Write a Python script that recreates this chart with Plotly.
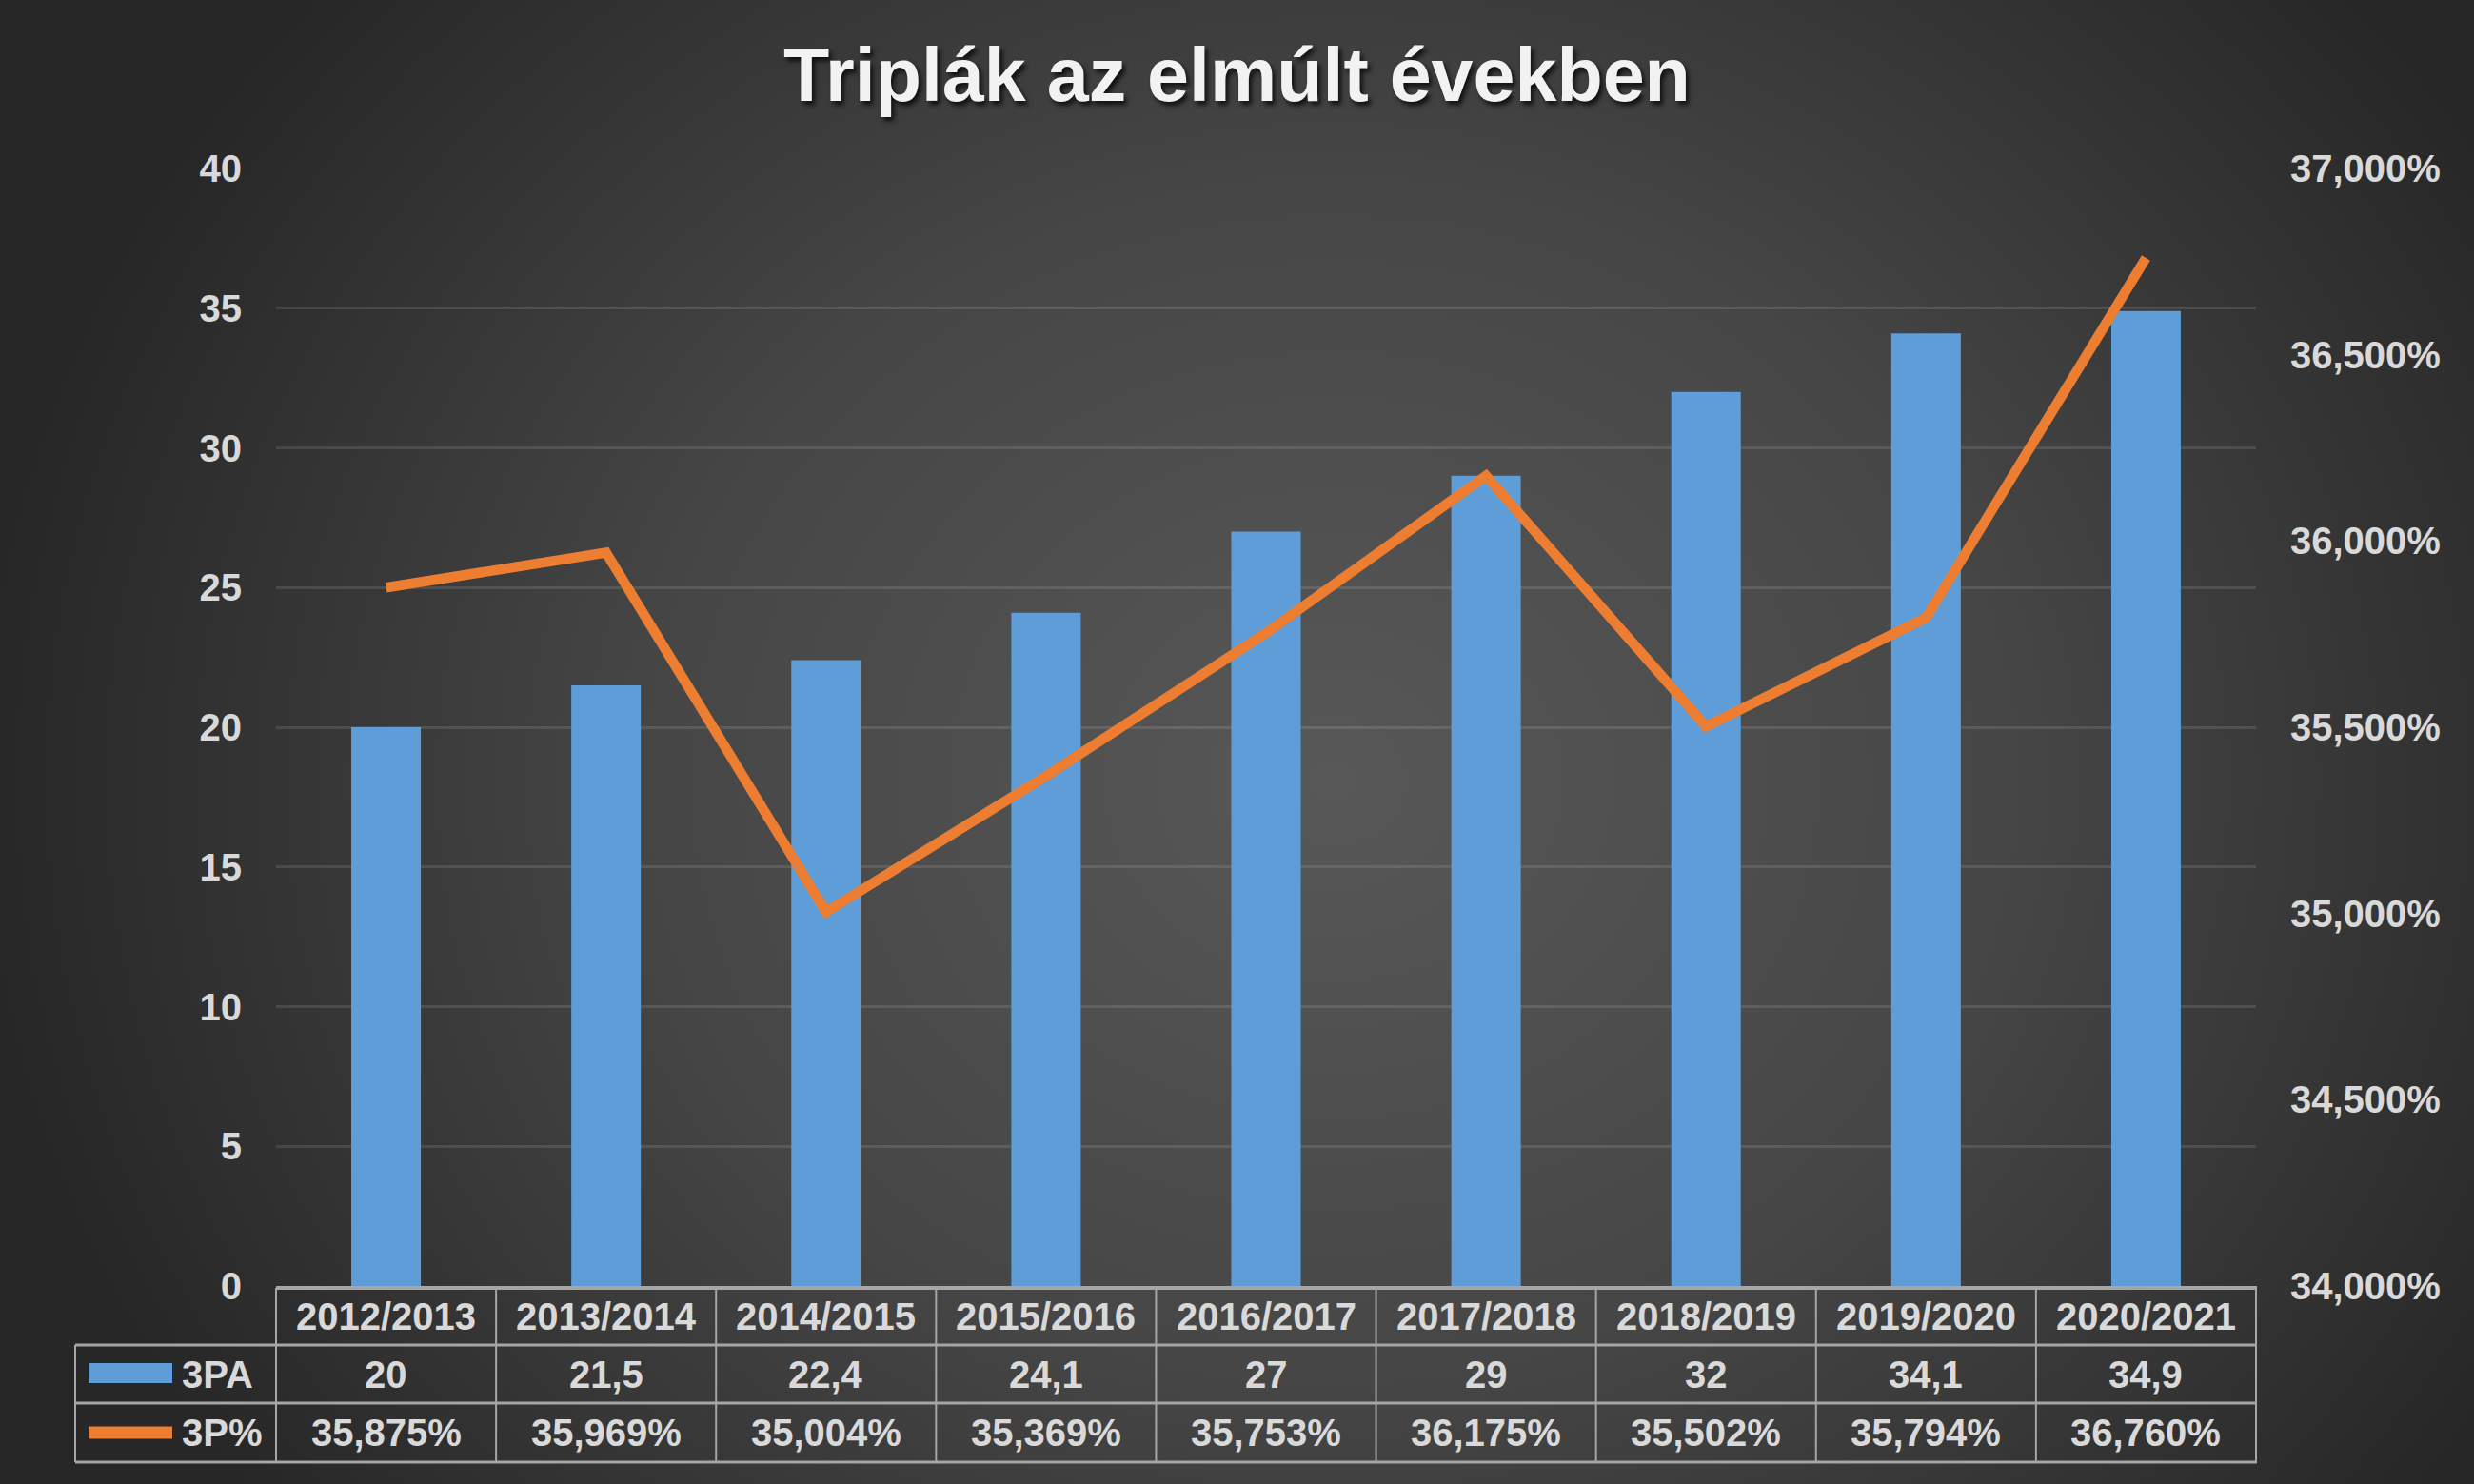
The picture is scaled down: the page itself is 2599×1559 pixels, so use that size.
import base64
import plotly.graph_objects as go

# ---------------- data ----------------
seasons = ["2012/2013", "2013/2014", "2014/2015", "2015/2016", "2016/2017",
           "2017/2018", "2018/2019", "2019/2020", "2020/2021"]
tpa = [20, 21.5, 22.4, 24.1, 27, 29, 32, 34.1, 34.9]
tp_pct = [35.875, 35.969, 35.004, 35.369, 35.753, 36.175, 35.502, 35.794, 36.760]
series_names = ["3PA", "3P%"]
title_text = "Triplák az elmúlt években"

# ---------------- geometry ----------------
W, H = 2599, 1559
L, R, T, B = 290, 229, 177, 208
PW, PH = W - L - R, H - T - B
BOT = H - B  # pixel y of plot bottom


def xp(px):
    return (px - L) / PW


def yp(py):
    return (BOT - py) / PH


TXT = "#d9d9d9"
FONT = "Liberation Sans, Arial, sans-serif"
BLUE = "#5e9dd8"
ORANGE = "#ed7d31"
GRID_TBL = "#a6a6a6"

# ---------------- background radial gradient (svg image) ----------------
svg = f'''<svg xmlns="http://www.w3.org/2000/svg" width="{W}" height="{H}" viewBox="0 0 {W} {H}">
<defs><radialGradient id="g" gradientUnits="userSpaceOnUse" cx="0" cy="0" r="1"
 gradientTransform="translate(1400 820) scale(1420 1250)">
<stop offset="0" stop-color="#585858"/>
<stop offset="0.5" stop-color="#464646"/>
<stop offset="1" stop-color="#272727"/>
</radialGradient></defs>
<rect width="{W}" height="{H}" fill="url(#g)"/></svg>'''
bg_src = "data:image/svg+xml;base64," + base64.b64encode(svg.encode()).decode()

fig = go.Figure()
fig.add_trace(go.Bar(x=seasons, y=tpa, name=series_names[0], marker=dict(color=BLUE, line=dict(width=0)),
                     showlegend=False))
fig.add_trace(go.Scatter(x=seasons, y=tp_pct, name=series_names[1], yaxis="y2", mode="lines",
                         line=dict(color=ORANGE, width=10.5), showlegend=False))

shapes = []
annotations = []

# table lines
col_w = PW / len(seasons)
x_left = 79
x_right = L + PW + 1
rows_y = [1353, 1413, 1474, 1536]
shapes.append(dict(type="line", xref="paper", yref="paper", x0=xp(L), x1=xp(x_right),
                   y0=yp(rows_y[0]), y1=yp(rows_y[0]), line=dict(color=GRID_TBL, width=4)))
for ry in rows_y[1:]:
    shapes.append(dict(type="line", xref="paper", yref="paper", x0=xp(x_left), x1=xp(x_right),
                       y0=yp(ry), y1=yp(ry), line=dict(color=GRID_TBL, width=3)))
shapes.append(dict(type="line", xref="paper", yref="paper", x0=xp(x_left), x1=xp(x_left),
                   y0=yp(rows_y[1]), y1=yp(rows_y[3]), line=dict(color=GRID_TBL, width=2)))
for k in range(len(seasons) + 1):
    cx = L + k * col_w
    shapes.append(dict(type="line", xref="paper", yref="paper", x0=xp(cx), x1=xp(cx),
                       y0=yp(rows_y[0]), y1=yp(rows_y[3]), line=dict(color=GRID_TBL, width=2)))

# legend swatches
shapes.append(dict(type="rect", xref="paper", yref="paper", x0=xp(93), x1=xp(181),
                   y0=yp(1453), y1=yp(1432), fillcolor=BLUE, line=dict(width=0)))
shapes.append(dict(type="line", xref="paper", yref="paper", x0=xp(93), x1=xp(181),
                   y0=yp(1505), y1=yp(1505), line=dict(color=ORANGE, width=13)))

row_centers = [(rows_y[i] + rows_y[i + 1]) / 2 for i in range(3)]
fnt = dict(family=FONT, size=40, color=TXT, weight="bold")
for i, s in enumerate(seasons):
    annotations.append(dict(x=s, xref="x", y=yp(row_centers[0]), yref="paper", text=s,
                            showarrow=False, font=fnt, xanchor="center", yanchor="middle"))
    annotations.append(dict(x=s, xref="x", y=yp(row_centers[1]), yref="paper",
                            text=f"{tpa[i]:g}".replace(".", ","), showarrow=False, font=fnt,
                            xanchor="center", yanchor="middle"))
    annotations.append(dict(x=s, xref="x", y=yp(row_centers[2]), yref="paper",
                            text=f"{tp_pct[i]:.3f}".replace(".", ",") + "%", showarrow=False, font=fnt,
                            xanchor="center", yanchor="middle"))
for j, nm in enumerate(series_names):
    annotations.append(dict(x=xp(189), xref="paper", y=yp(row_centers[j + 1]), yref="paper", text=nm,
                            showarrow=False, font=fnt, xanchor="left", yanchor="middle"))

fig.update_layout(
    width=W, height=H,
    margin=dict(l=L, r=R, t=T, b=B, autoexpand=False),
    paper_bgcolor="#272727",
    plot_bgcolor="rgba(0,0,0,0)",
    separators=", ",
    bargap=0.684,
    title=dict(text=title_text, x=0.5, xref="container", xanchor="center",
               y=1 - 78 / H, yref="container", yanchor="middle",
               font=dict(family=FONT, size=79, color="#f2f2f2", weight="bold",
                         shadow="3px 4px 5px rgba(0,0,0,0.75)")),
    xaxis=dict(type="category", showticklabels=False, showgrid=False, zeroline=False, showline=False,
               ticks="", range=[-0.5, len(seasons) - 0.5]),
    yaxis=dict(range=[0, 40], dtick=5, showgrid=True, gridcolor="rgba(255,255,255,0.11)", gridwidth=2.5,
               zeroline=False, showline=False, ticks="", ticklabelstandoff=35,
               tickfont=dict(family=FONT, size=40, color=TXT, weight="bold")),
    yaxis2=dict(range=[34, 37], dtick=0.5, overlaying="y", side="right", showgrid=False, zeroline=False,
                showline=False, ticks="", tickformat=".3f", ticksuffix="%", ticklabelstandoff=35,
                tickfont=dict(family=FONT, size=40, color=TXT, weight="bold")),
    shapes=shapes,
    annotations=annotations,
    images=[dict(source=bg_src, xref="paper", yref="paper", x=xp(0), y=yp(0),
                 sizex=W / PW, sizey=H / PH, sizing="stretch", xanchor="left", yanchor="top",
                 layer="below")],
)

fig.write_html("out.html")
